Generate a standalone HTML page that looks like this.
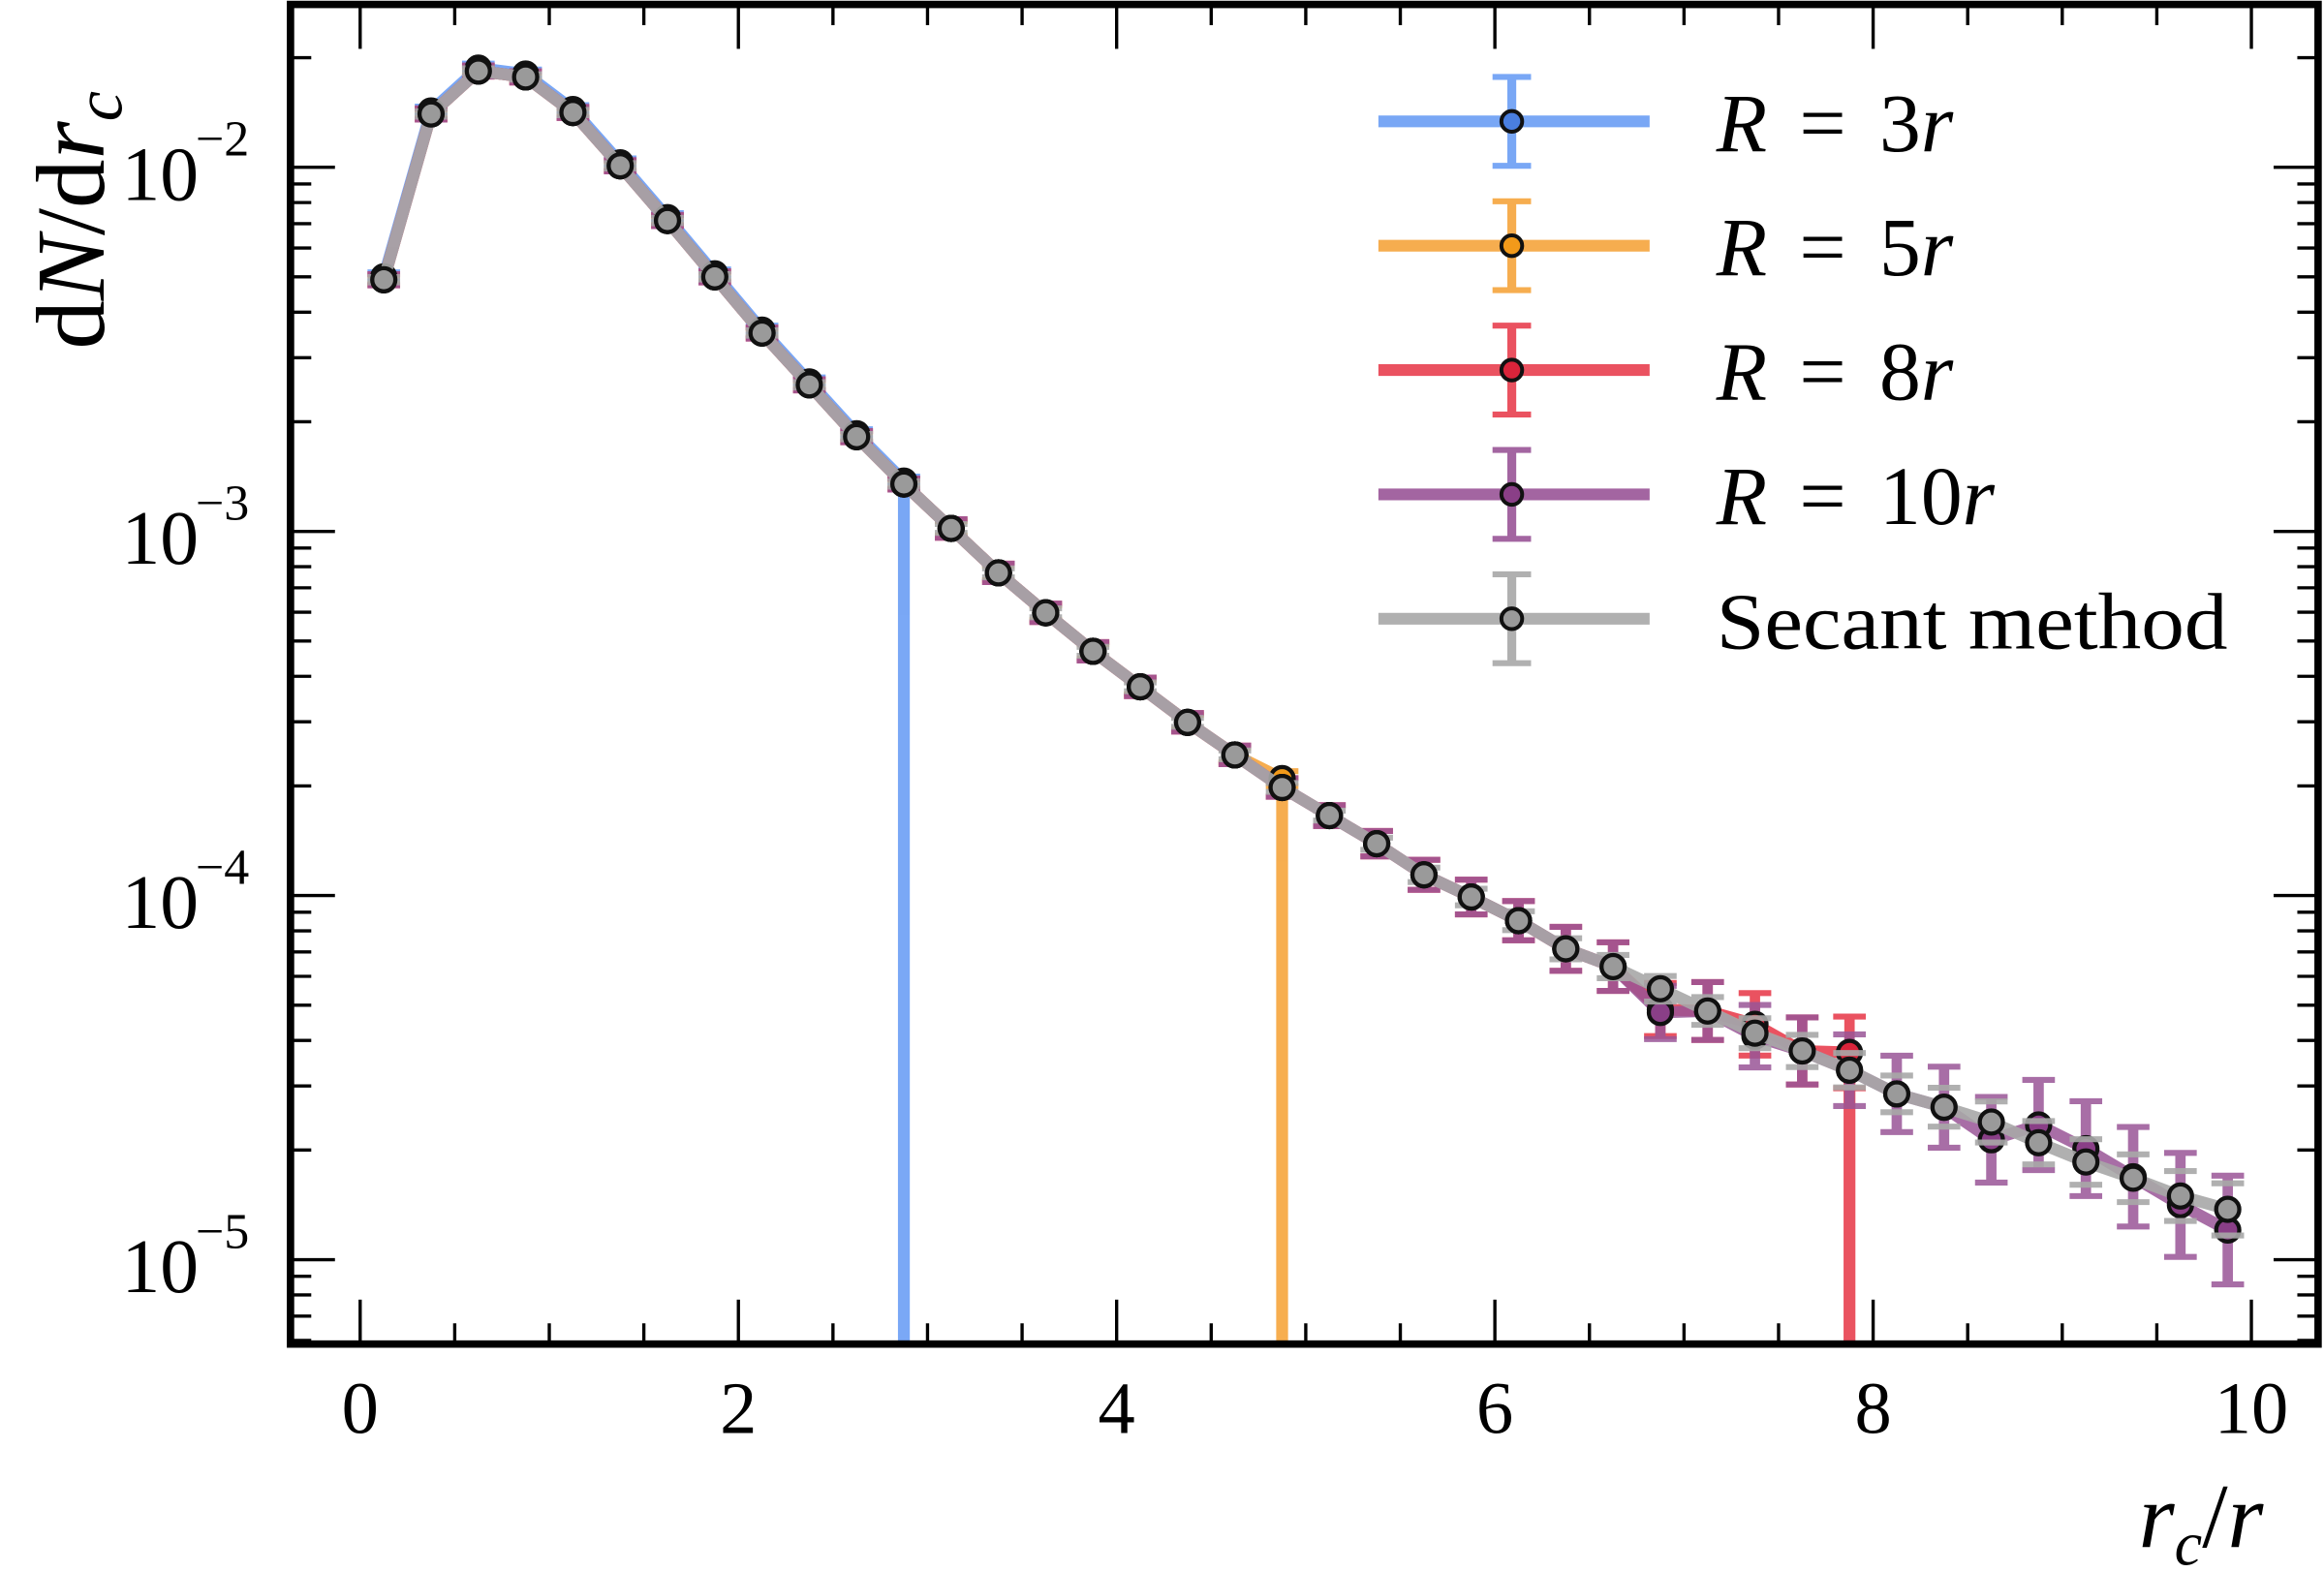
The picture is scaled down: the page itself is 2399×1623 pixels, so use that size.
<!DOCTYPE html>
<html><head><meta charset="utf-8"><style>
html,body{margin:0;padding:0;background:#fff;}
svg{display:block;}
text{font-family:"Liberation Serif",serif;fill:#000;}
</style></head><body>
<svg id="s" width="2399" height="1623" viewBox="0 0 1568 1062" preserveAspectRatio="none" xmlns="http://www.w3.org/2000/svg">
<rect width="1568" height="1062" fill="#fff"/>
<g id="plot"></g>
<g id="ax"></g>
<text x="0" y="0" transform="translate(70,236) rotate(-90)" font-size="66"><tspan>d</tspan><tspan font-style="italic">N</tspan><tspan>/d</tspan><tspan font-style="italic">r</tspan><tspan font-style="italic" font-size="46" dy="12">c</tspan></text>
<text x="1443" y="1045" font-size="62" font-style="italic">r<tspan font-size="42" dy="12">c</tspan><tspan dy="-12" font-style="normal">/</tspan>r</text>
</svg>
<script>
const NS="http://www.w3.org/2000/svg";
function el(p,t,a,txt){const e=document.createElementNS(NS,t);for(const k in a)e.setAttribute(k,a[k]);if(txt!==undefined)e.textContent=txt;p.appendChild(e);return e;}
const plot=document.getElementById('plot'),ax=document.getElementById('ax');
const L=196,R=1564,T=3,B=908;
const X=v=>243+127.6*v;
const Yl=l=>113-246*(l+2);
const g=[189,77,48,52,76,112,149,187,225,260,295,327,357,387,414,440,464,488,510,532,551,570,591,606,622,641,653,668,683,698,710,723,739,748,758,772,785,796,808,817];
const xs=g.map((_,i)=>0.125+0.25*i);
const purple=g.slice();purple[27]=684;purple[34]=770;purple[35]=760;purple[36]=776;purple[37]=795;purple[38]=814;purple[39]=831;purple[29]=700;
const red=g.slice(0,32);red[31]=711;red[29]=692;red[27]=682;
const blue=g.slice(0,12).map(v=>v-2);
const orange=g.slice(0,20);orange[19]=526;
function err(i,big){const x=xs[i];let e= x<3?3: x<5?5: 5+ (x-5)*5;if(big)e*=1.25;return e;}
const clip=el(plot,'clipPath',{id:'c'});el(clip,'rect',{x:L,y:T,width:R-L,height:B-T});
const gp=el(plot,'g',{'clip-path':'url(#c)'});
function series(ys,col,op,drop,bigerr){
  const gg=el(gp,'g',{opacity:op});
  let pts=ys.map((y,i)=>X(xs[i])+','+y);
  if(drop){const lx=X(xs[ys.length-1]);pts.push(lx+','+(B+5));}
  el(gg,'polyline',{points:pts.join(' '),fill:'none',stroke:col,'stroke-width':8,'stroke-linejoin':'round'});
  ys.forEach((y,i)=>{const x=X(xs[i]);const e=err(i,bigerr);
    el(gg,'line',{x1:x,x2:x,y1:y-e,y2:y+e,stroke:col,'stroke-width':7});
    el(gg,'line',{x1:x-11,x2:x+11,y1:y-e,y2:y-e,stroke:col,'stroke-width':4});
    el(gg,'line',{x1:x-11,x2:x+11,y1:y+e,y2:y+e,stroke:col,'stroke-width':4});});
  return gg;
}
function markers(ys,col){ys.forEach((y,i)=>el(gp,'circle',{cx:X(xs[i]),cy:y,r:7.8,fill:col,stroke:'#111','stroke-width':2.8}));}
series(blue,'#6b9ef5',0.9,true,false);
series(orange,'#f6a53c',0.9,true,false);
series(red,'#e8404f',0.9,true,true);
series(purple,'#9a5597',0.85,false,true);
markers(blue,'#4a7fe0');markers(orange,'#f29a1a');markers(red,'#d9243a');markers(purple,'#8a3f87');
const gs=el(gp,'g',{opacity:0.9});
el(gs,'polyline',{points:g.map((y,i)=>X(xs[i])+','+y).join(' '),fill:'none',stroke:'#a8a8a8','stroke-width':8,'stroke-linejoin':'round'});
g.forEach((y,i)=>{const x=X(xs[i]);const e=err(i,false)*0.6;
  el(gs,'line',{x1:x-11,x2:x+11,y1:y-e,y2:y-e,stroke:'#a8a8a8','stroke-width':4});
  el(gs,'line',{x1:x-11,x2:x+11,y1:y+e,y2:y+e,stroke:'#a8a8a8','stroke-width':4});});
markers(g,'#9a9a9a');
const leg=[['#6b9ef5','#4a7fe0','3'],['#f6a53c','#f29a1a','5'],['#e8404f','#d9243a','8'],['#9a5597','#8a3f87','10'],['#a8a8a8','#9a9a9a','']];
leg.forEach((d,i)=>{const y=82+84*i;const lg=el(ax,'g',{opacity:0.9});
  el(lg,'line',{x1:930,x2:1113,y1:y,y2:y,stroke:d[0],'stroke-width':8});
  el(lg,'line',{x1:1020,x2:1020,y1:y-30,y2:y+30,stroke:d[0],'stroke-width':6});
  el(lg,'line',{x1:1007,x2:1033,y1:y-30,y2:y-30,stroke:d[0],'stroke-width':4});
  el(lg,'line',{x1:1007,x2:1033,y1:y+30,y2:y+30,stroke:d[0],'stroke-width':4});
  el(ax,'circle',{cx:1020,cy:y,r:7,fill:d[1],stroke:'#111','stroke-width':2.6});
  if(i<4){
    el(ax,'text',{x:1158,y:y+20,'font-size':56,'font-style':'italic'},'R');
    el(ax,'text',{x:1214,y:y+20,'font-size':56},'=');
    el(ax,'text',{x:1268,y:y+20,'font-size':56},d[2]);
    el(ax,'text',{x:1268+28*d[2].length,y:y+20,'font-size':56,'font-style':'italic'},'r');
  } else el(ax,'text',{x:1158,y:y+20,'font-size':54,textLength:345,lengthAdjust:'spacingAndGlyphs'},'Secant method');
});
for(let v=0;v<=10.01;v+=0.5){const x=X(v);const maj=Math.abs(v/2-Math.round(v/2))<1e-6;const len=maj?30:14;
  el(ax,'line',{x1:x,x2:x,y1:B,y2:B-len,stroke:'#000','stroke-width':2.2});
  el(ax,'line',{x1:x,x2:x,y1:T,y2:T+len,stroke:'#000','stroke-width':2.2});
  if(maj)el(ax,'text',{x:x,y:968,'font-size':50,'text-anchor':'middle'},String(v));}
for(let d=-6;d<=-1;d++)for(let m=1;m<=9;m++){const l=d+Math.log10(m);const y=Yl(l);if(y<T+2||y>B-2)continue;const len=m==1?30:14;
  el(ax,'line',{x1:L,x2:L+len,y1:y,y2:y,stroke:'#000','stroke-width':2.2});
  el(ax,'line',{x1:R,x2:R-len,y1:y,y2:y,stroke:'#000','stroke-width':2.2});
  if(m==1){el(ax,'text',{x:82,y:y+22,'font-size':52},'10');
    el(ax,'text',{x:132,y:y-8,'font-size':34},'−'+(-d));}}
el(ax,'rect',{x:L,y:T,width:R-L,height:B-T,fill:'none',stroke:'#000','stroke-width':5});
</script>
</body></html>
